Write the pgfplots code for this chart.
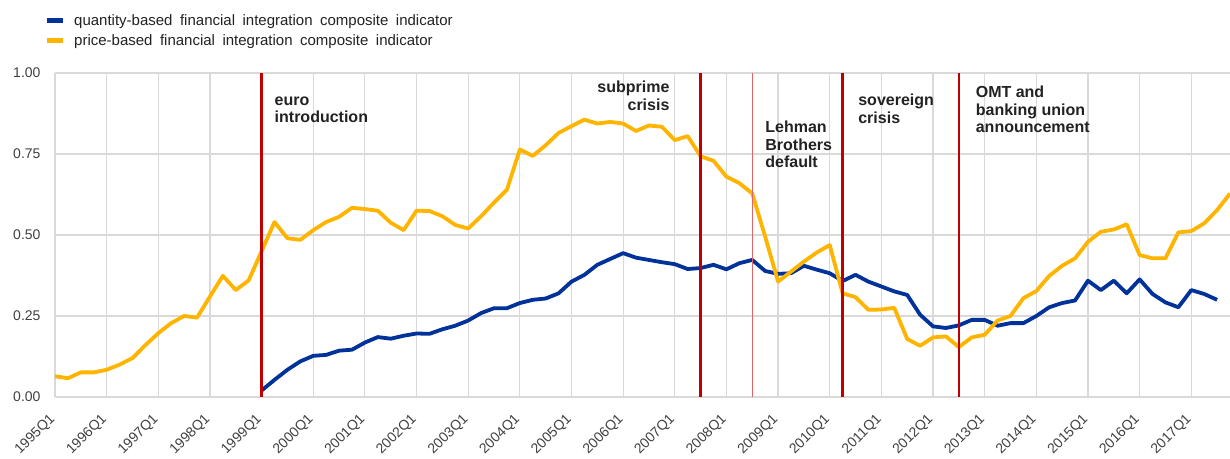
\documentclass[border=0pt]{standalone}
\usepackage{pgfplots}
\pgfplotsset{compat=1.18}
\usepackage{fontspec}
\setmainfont{Liberation Sans}
\definecolor{ecbblue}{HTML}{003299}
\definecolor{ecbyellow}{HTML}{FFB400}
\definecolor{ecbred}{HTML}{C00000}
\definecolor{ecblightred}{HTML}{E06666}
\definecolor{gridgray}{HTML}{D9D9D9}
\definecolor{ticktext}{HTML}{404040}
\definecolor{annot}{HTML}{222222}
\newcommand{\gap}{\hspace{0.5em}}
\begin{document}
\begin{tikzpicture}[x=1pt,y=1pt]
\useasboundingbox (0,0) rectangle (1230,458);
\begin{axis}[
  at={(55pt,61pt)}, anchor=south west,
  scale only axis, width=1175pt, height=324pt,
  xmin=0, xmax=91, ymin=0, ymax=1,
  axis lines*=left,
  axis line style={draw=gridgray, line width=1.2pt},
  grid=major, grid style={gridgray, line width=1.2pt},
  major tick length=0pt,
  xtick={0,4,...,88},
  xticklabels={1995Q1,1996Q1,1997Q1,1998Q1,1999Q1,2000Q1,2001Q1,2002Q1,2003Q1,2004Q1,2005Q1,2006Q1,2007Q1,2008Q1,2009Q1,2010Q1,2011Q1,2012Q1,2013Q1,2014Q1,2015Q1,2016Q1,2017Q1},
  ytick={0,0.25,0.5,0.75,1},
  yticklabels={0.00,0.25,0.50,0.75,1.00},
  xticklabel style={xshift=-2pt, yshift=-20pt, rotate=45, anchor=east, font=\fontsize{14}{15}\selectfont, text=ticktext, inner sep=0pt},
  yticklabel style={anchor=east, font=\fontsize{14}{16}\selectfont, text=ticktext, xshift=-11pt},
  legend style={draw=none, fill=none, at={(0,1)}, anchor=north west, xshift=-14pt, yshift=63pt,
    font=\fontsize{15}{17}\selectfont, row sep=4pt, text=annot,
    /tikz/every odd column/.append style={column sep=7pt}},
  legend cell align=left,
  legend image code/.code={\draw[#1, line width=5pt] (0pt,0pt) -- (16pt,0pt);},
  clip=true,
]
\addplot[ecbblue, line width=3.8pt, line join=round] coordinates {
(16,0.02)(17,0.053)(18,0.084)(19,0.11)(20,0.127)(21,0.13)(22,0.143)(23,0.146)(24,0.168)(25,0.185)(26,0.18)(27,0.189)
(28,0.196)(29,0.195)(30,0.209)(31,0.22)(32,0.236)(33,0.259)(34,0.274)(35,0.274)(36,0.29)(37,0.30)(38,0.304)(39,0.32)
(40,0.356)(41,0.377)(42,0.408)(43,0.426)(44,0.444)(45,0.43)(46,0.423)(47,0.416)(48,0.41)(49,0.395)(50,0.398)(51,0.408)
(52,0.394)(53,0.413)(54,0.423)(55,0.389)(56,0.38)(57,0.382)(58,0.405)(59,0.393)(60,0.382)(61,0.358)(62,0.377)(63,0.356)
(64,0.341)(65,0.326)(66,0.315)(67,0.254)(68,0.218)(69,0.213)(70,0.221)(71,0.238)(72,0.238)(73,0.22)(74,0.228)(75,0.228)
(76,0.25)(77,0.277)(78,0.29)(79,0.298)(80,0.359)(81,0.33)(82,0.359)(83,0.32)(84,0.363)(85,0.318)(86,0.292)(87,0.277)
(88,0.33)(89,0.318)(90,0.30)
};
\addlegendentry{quantity-based\gap financial\gap integration\gap composite\gap indicator}
\addplot[ecbyellow, line width=3.8pt, line join=round] coordinates {
(0,0.064)(1,0.058)(2,0.076)(3,0.076)(4,0.084)(5,0.10)(6,0.12)(7,0.16)(8,0.197)(9,0.228)(10,0.25)(11,0.245)
(12,0.31)(13,0.374)(14,0.33)(15,0.36)(16,0.45)(17,0.54)(18,0.49)(19,0.485)(20,0.515)(21,0.54)(22,0.556)(23,0.584)
(24,0.58)(25,0.575)(26,0.538)(27,0.515)(28,0.575)(29,0.574)(30,0.558)(31,0.531)(32,0.52)(33,0.558)(34,0.60)(35,0.64)
(36,0.764)(37,0.744)(38,0.777)(39,0.815)(40,0.836)(41,0.856)(42,0.844)(43,0.849)(44,0.844)(45,0.821)(46,0.838)(47,0.834)
(48,0.793)(49,0.805)(50,0.743)(51,0.729)(52,0.68)(53,0.66)(54,0.628)(55,0.495)(56,0.356)(57,0.387)(58,0.418)(59,0.446)
(60,0.469)(61,0.32)(62,0.308)(63,0.269)(64,0.27)(65,0.275)(66,0.179)(67,0.158)(68,0.184)(69,0.187)(70,0.154)(71,0.184)
(72,0.192)(73,0.236)(74,0.25)(75,0.305)(76,0.327)(77,0.374)(78,0.405)(79,0.428)(80,0.479)(81,0.51)(82,0.517)(83,0.533)
(84,0.438)(85,0.428)(86,0.428)(87,0.508)(88,0.512)(89,0.536)(90,0.577)(91,0.628)
};
\addlegendentry{price-based\gap financial\gap integration\gap composite\gap indicator}
\addplot[ecbred, line width=2.6pt, forget plot] coordinates {(16,0) (16,1)};
\addplot[ecbred, line width=2.6pt, forget plot] coordinates {(50,0) (50,1)};
\addplot[ecblightred, line width=1.4pt, forget plot] coordinates {(54,0) (54,1)};
\addplot[ecbred, line width=2.6pt, forget plot] coordinates {(61,0) (61,1)};
\addplot[ecbred, line width=2.6pt, forget plot] coordinates {(70,0) (70,1)};
\node[anchor=north west, align=left, font=\bfseries\fontsize{16}{17.5}\selectfont, text=annot, inner sep=0pt] at (axis cs:17.0,0.928) {euro\\introduction};
\node[anchor=north east, align=right, font=\bfseries\fontsize{16}{17.5}\selectfont, text=annot, inner sep=0pt] at (axis cs:47.6,0.975) {subprime\\crisis};
\node[anchor=north west, align=left, font=\bfseries\fontsize{16}{17.5}\selectfont, text=annot, inner sep=0pt] at (axis cs:55.0,0.852) {Lehman\\Brothers\\default};
\node[anchor=north west, align=left, font=\bfseries\fontsize{16}{17.5}\selectfont, text=annot, inner sep=0pt] at (axis cs:62.2,0.936) {sovereign\\crisis};
\node[anchor=north west, align=left, font=\bfseries\fontsize{16}{17.5}\selectfont, text=annot, inner sep=0pt] at (axis cs:71.3,0.96) {OMT and\\banking union\\announcement};
\end{axis}
\end{tikzpicture}
\end{document}
